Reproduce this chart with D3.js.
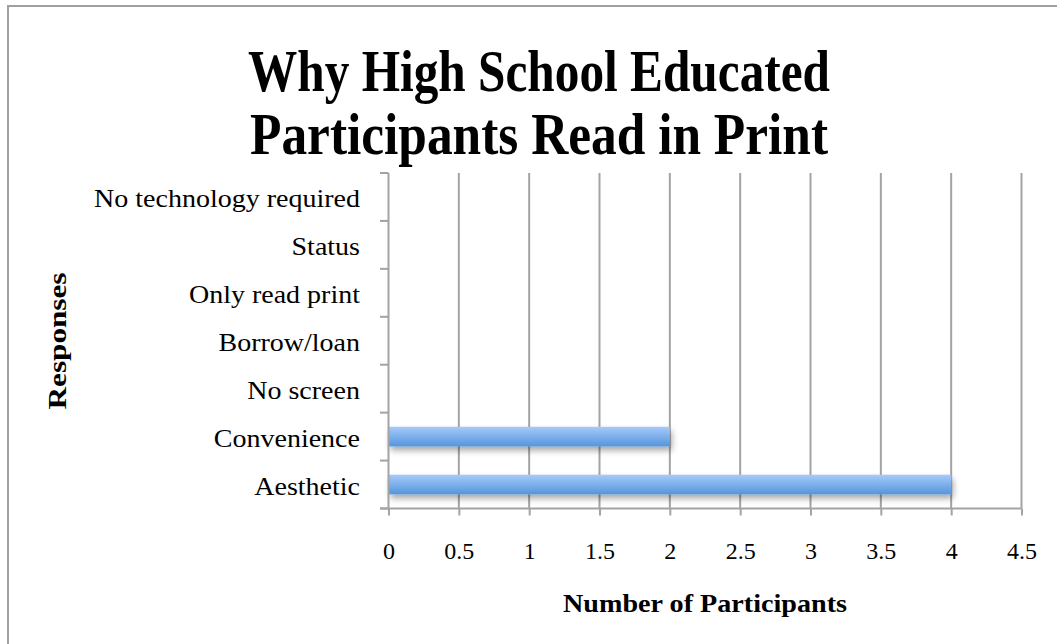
<!DOCTYPE html>
<html><head><meta charset="utf-8">
<script src="https://cdn.jsdelivr.net/npm/d3@7"></script>
<style>html,body{margin:0;padding:0;background:#fff;}svg{display:block;}</style>
</head><body>
<svg id="chart" width="1057" height="644"></svg>
<script>
const categories = ["No technology required","Status","Only read print","Borrow/loan","No screen","Convenience","Aesthetic"];
const values = [0,0,0,0,0,2,4];
const xTicks = [0,0.5,1,1.5,2,2.5,3,3.5,4,4.5];
const titleLines = ["Why High School Educated","Participants Read in Print"];
const xTitle = "Number of Participants";
const yTitle = "Responses";

const svg = d3.select("#chart");
const font = "'Liberation Serif', 'Times New Roman', serif";
const grid = "#a3a3a3";

const defs = svg.append("defs");
const grad = defs.append("linearGradient").attr("id","barGrad").attr("x1",0).attr("y1",0).attr("x2",0).attr("y2",1);
grad.append("stop").attr("offset","0%").attr("stop-color","#a6cafa");
grad.append("stop").attr("offset","100%").attr("stop-color","#5595dc");
const f = defs.append("filter").attr("id","shadow").attr("x","-10%").attr("y","-50%").attr("width","130%").attr("height","250%");
f.append("feDropShadow").attr("dx",2).attr("dy",4).attr("stdDeviation",3).attr("flood-color","#000").attr("flood-opacity",0.35);

// outer border
svg.append("rect").attr("x",8).attr("y",6).attr("width",1060).attr("height",660)
  .attr("fill","none").attr("stroke","#a0a0a0").attr("stroke-width",2);

const x = d3.scaleLinear().domain([0,4.5]).range([388.5,1021.5]);
const y = d3.scaleBand().domain(categories).range([173,508.5]).paddingInner(0.59).paddingOuter(0.295);

// gridlines
svg.append("g").selectAll("line").data(xTicks.filter(d=>d>0)).join("line")
  .attr("x1",d=>x(d)).attr("x2",d=>x(d)).attr("y1",173).attr("y2",508.5)
  .attr("stroke",grid).attr("stroke-width",2);

// bars
svg.append("g").selectAll("rect").data(categories.map((c,i)=>({c,v:values[i]})).filter(d=>d.v>0)).join("rect")
  .attr("x",x(0)).attr("y",d=>y(d.c)).attr("width",d=>x(d.v)-x(0)).attr("height",y.bandwidth())
  .attr("fill","url(#barGrad)").attr("filter","url(#shadow)");

// x axis
const xAxis = svg.append("g").attr("transform","translate(0,508.5)")
  .call(d3.axisBottom(x).tickValues(xTicks).tickSize(7).tickPadding(26).tickFormat(d=>String(d)));
xAxis.select(".domain").remove();
xAxis.append("line").attr("x1",380).attr("x2",x(4.5)).attr("y1",0).attr("y2",0).attr("stroke",grid).attr("stroke-width",2);
xAxis.selectAll(".tick line").attr("stroke",grid).attr("stroke-width",2);
xAxis.selectAll(".tick text").attr("font-family",font).attr("font-size",24).attr("fill","#000");

// y axis
const step = y.step();
const bounds = d3.range(categories.length+1).map(i=>173 + i*step);
const yAxis = svg.append("g");
yAxis.append("line").attr("x1",x(0)).attr("x2",x(0)).attr("y1",173).attr("y2",508.5).attr("stroke",grid).attr("stroke-width",2);
yAxis.selectAll("line.tk").data(bounds).join("line").attr("class","tk")
  .attr("x1",380).attr("x2",x(0)).attr("y1",d=>d).attr("y2",d=>d).attr("stroke",grid).attr("stroke-width",2);
const yl = yAxis.selectAll("text").data(categories).join("text")
  .attr("x",360).attr("y",d=>y(d)+y.bandwidth()/2+10)
  .attr("text-anchor","end").attr("font-family",font).attr("font-size",25).attr("fill","#000").text(d=>d);
yl.each(function(){ const w=this.getComputedTextLength(); d3.select(this).attr("textLength",w*1.12).attr("lengthAdjust","spacingAndGlyphs"); });

// title
svg.append("g").selectAll("text").data(titleLines).join("text")
  .attr("x",539).attr("y",(d,i)=>91+i*63).attr("text-anchor","middle")
  .attr("font-family",font).attr("font-weight","bold").attr("font-size",60)
  .attr("textLength",(d,i)=>i===0?582:578).attr("lengthAdjust","spacingAndGlyphs").text(d=>d);

// axis titles
svg.append("text").attr("x",705).attr("y",612).attr("text-anchor","middle")
  .attr("font-family",font).attr("font-weight","bold").attr("font-size",25)
  .attr("textLength",284).attr("lengthAdjust","spacingAndGlyphs").text(xTitle);
svg.append("text").attr("transform","translate(66,341) rotate(-90)").attr("text-anchor","middle")
  .attr("font-family",font).attr("font-weight","bold").attr("font-size",25)
  .attr("textLength",137).attr("lengthAdjust","spacingAndGlyphs").text(yTitle);
</script>
</body></html>
